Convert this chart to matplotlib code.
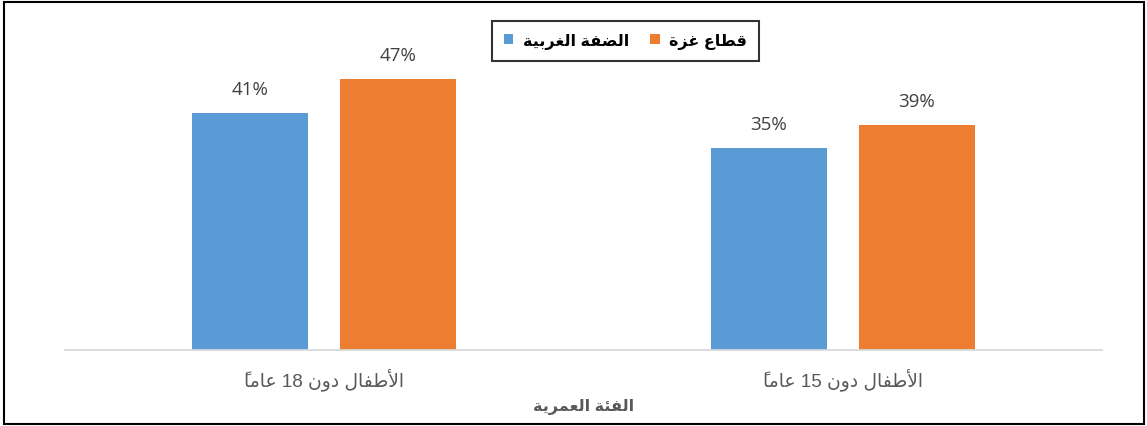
import matplotlib
matplotlib.use("Agg")
import matplotlib.pyplot as plt
from matplotlib.patches import Rectangle, Patch
import matplotlib.transforms as mtrans
import re

# ---------------- data ----------------
categories = ["الأطفال دون 18 عاماً", "الأطفال دون 15 عاماً"]
series_names = ["الضفة الغربية", "قطاع غزة"]
west_bank = [41, 35]
gaza = [47, 39]
axis_title = "الفئة العمرية"
colors = ["#5B9BD5", "#ED7D31"]

# ---------------- simple Arabic shaping (matplotlib has no bidi) ----------------
FOUR = {'ب': 0xFE8F, 'ت': 0xFE95, 'ث': 0xFE99, 'ج': 0xFE9D, 'ح': 0xFEA1, 'خ': 0xFEA5,
        'س': 0xFEB1, 'ش': 0xFEB5, 'ص': 0xFEB9, 'ض': 0xFEBD, 'ط': 0xFEC1, 'ظ': 0xFEC5,
        'ع': 0xFEC9, 'غ': 0xFECD, 'ف': 0xFED1, 'ق': 0xFED5, 'ك': 0xFED9, 'ل': 0xFEDD,
        'م': 0xFEE1, 'ن': 0xFEE5, 'ه': 0xFEE9, 'ي': 0xFEF1, 'ئ': 0xFE89}
TWO = {'ا': 0xFE8D, 'أ': 0xFE83, 'إ': 0xFE87, 'آ': 0xFE81, 'ة': 0xFE93, 'د': 0xFEA9,
       'ذ': 0xFEAB, 'ر': 0xFEAD, 'ز': 0xFEAF, 'و': 0xFEED, 'ى': 0xFEEF}
LAMALEF = {'ا': 0xFEFB, 'أ': 0xFEF7, 'إ': 0xFEF9, 'آ': 0xFEF5}
MARKS = set(chr(c) for c in range(0x064B, 0x0653))


def is_letter(c):
    return c in FOUR or c in TWO


def shape(word):
    chars = list(word)
    out = []
    n = len(chars)

    def next_letter(idx):
        j = idx + 1
        while j < n and chars[j] in MARKS:
            j += 1
        return j if (j < n and is_letter(chars[j])) else None

    prev_forward = False
    i = 0
    while i < n:
        c = chars[i]
        if c in MARKS:
            out.append(c)
            i += 1
            continue
        if not is_letter(c):
            out.append(c)
            prev_forward = False
            i += 1
            continue
        nxt = next_letter(i)
        if c == 'ل' and nxt is not None and chars[nxt] in LAMALEF:
            out.append(chr(LAMALEF[chars[nxt]] + (1 if prev_forward else 0)))
            for k in range(i + 1, nxt):
                out.append(chars[k])
            prev_forward = False
            i = nxt + 1
            continue
        if c in FOUR:
            base = FOUR[c]
            joins_next = nxt is not None
            if prev_forward and joins_next:
                g = base + 3
            elif prev_forward:
                g = base + 1
            elif joins_next:
                g = base + 2
            else:
                g = base
            out.append(chr(g))
            prev_forward = True
        else:
            out.append(chr(TWO[c] + (1 if prev_forward else 0)))
            prev_forward = False
        i += 1
    return out


def ar(text):
    s = "".join(shape(text))
    tokens = re.findall(r'[0-9%.]+|[^0-9%.]+', s)
    vis = []
    for t in reversed(tokens):
        if re.fullmatch(r'[0-9%.]+', t):
            vis.append(t)
        else:
            vis.append("".join(reversed(t)))
    return "".join(vis)


FAM = ['Liberation Sans', 'DejaVu Sans']
plt.rcParams['font.family'] = FAM

fig = plt.figure(figsize=(11.47, 4.27), dpi=100)
W, H = 1147, 427
ax = fig.add_axes([65 / W, (H - 351) / H, 1037 / W, 288.5 / H])

x = list(range(len(categories)))
bw = 0.2237
off = 0.1427
b1 = ax.bar([xi - off for xi in x], west_bank, bw, color=colors[0], zorder=2)
b2 = ax.bar([xi + off for xi in x], gaza, bw, color=colors[1], zorder=2)

px_per_unit = 288.5 / 50.0
for bars, vals in ((b1, west_bank), (b2, gaza)):
    for r, v in zip(bars, vals):
        ax.text(r.get_x() + r.get_width() / 2, v + 24 / px_per_unit, f"{v}%",
                ha='center', va='center', fontsize=13.5, color='#404040',
                family=['Open Sans', 'DejaVu Sans'])

ax.set_xlim(-0.5, 1.5)
ax.set_ylim(0, 50)
ax.set_yticks([])
ax.set_xticks([])
for s in ('top', 'left', 'right'):
    ax.spines[s].set_visible(False)
ax.spines['bottom'].set_color('#D9D9D9')
ax.spines['bottom'].set_linewidth(1.3)

trans = mtrans.blended_transform_factory(ax.transData, fig.transFigure)
for xi, c in zip(x, categories):
    ax.text(xi, (H - 380) / H, ar(c), transform=trans,
            ha='center', va='center', fontsize=13.5, color='#595959')

fig.text(583.5 / W, (H - 407) / H, ar(axis_title), ha='center', va='center',
         fontsize=11.5, fontweight='bold', color='#595959')

handles = [Patch(facecolor=colors[0]), Patch(facecolor=colors[1])]
leg = fig.legend(handles, [ar(s) for s in series_names], ncol=2,
                 loc='center', bbox_to_anchor=(625.5 / W, (H - 42) / H),
                 frameon=True, fancybox=False, edgecolor='black',
                 prop={'weight': 'bold', 'size': 11.5, 'family': FAM},
                 handlelength=0.6, handleheight=0.6, handletextpad=0.6,
                 columnspacing=1.3, borderpad=0.75, borderaxespad=0)
leg.get_frame().set_linewidth(1.5)

fig.patches.append(Rectangle((4 / W, 2 / H), 1140 / W, 422 / H, transform=fig.transFigure,
                             fill=False, edgecolor='black', linewidth=1.5))

fig.savefig("out.png", dpi=100)
